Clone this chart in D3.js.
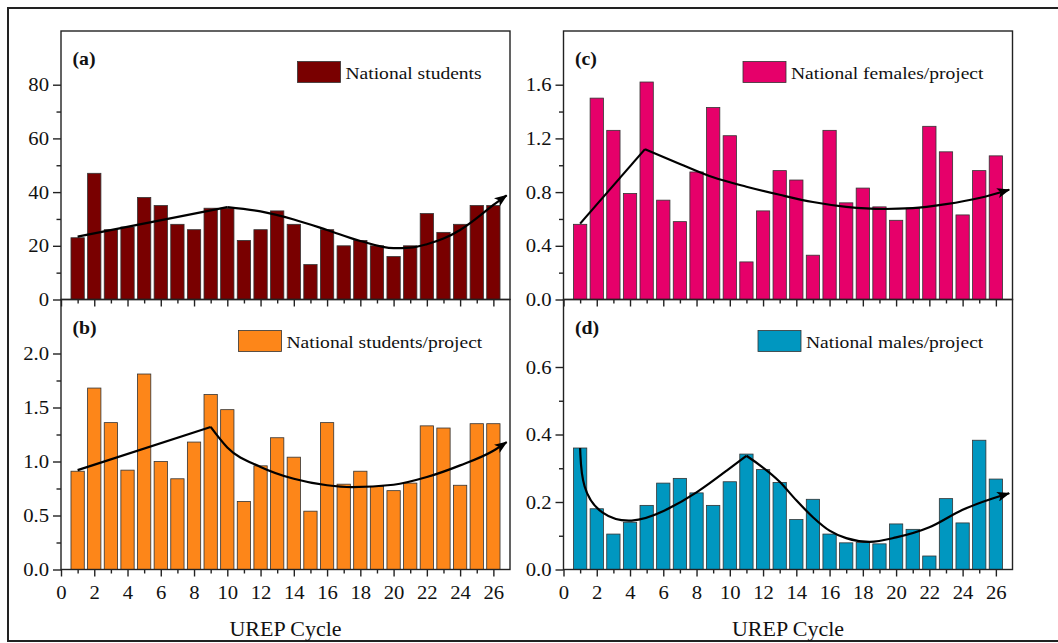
<!DOCTYPE html>
<html><head><meta charset="utf-8">
<script src="https://cdn.jsdelivr.net/npm/d3@7"></script>
<style>
body{margin:0;background:#fff}
text{font-family:"Liberation Serif","Times New Roman",serif;fill:#111}
</style>
</head><body>
<svg id="chart" width="1058" height="643"></svg>
<script>
// ---------- data ----------
const cycles = [1,2,3,4,5,6,7,8,9,10,11,12,13,14,15,16,17,18,19,20,21,22,23,24,25,26];
const xTickValues = [0,2,4,6,8,10,12,14,16,18,20,22,24,26];
const xMinorValues = [1,3,5,7,9,11,13,15,17,19,21,23,25];

const nationalStudents = [23,47,26,27,38,35,28,26,34,34,22,26,33,28,13,26,20,22,20,16,20,32,25,28,35,35];
const studentsPerProject = [0.91,1.68,1.36,0.92,1.81,1.00,0.84,1.18,1.62,1.48,0.63,0.96,1.22,1.04,0.54,1.36,0.79,0.91,0.77,0.73,0.80,1.33,1.31,0.78,1.35,1.35];
const femalesPerProject = [0.56,1.50,1.26,0.79,1.62,0.74,0.58,0.95,1.43,1.22,0.28,0.66,0.96,0.89,0.33,1.26,0.72,0.83,0.69,0.59,0.68,1.29,1.10,0.63,0.96,1.07];
const malesPerProject = [0.36,0.18,0.105,0.14,0.19,0.256,0.27,0.227,0.19,0.26,0.342,0.296,0.258,0.148,0.208,0.105,0.079,0.08,0.076,0.135,0.119,0.04,0.21,0.138,0.383,0.268];

// trend guide lines (segments of [cycle, value])
const trendA = [
  [[1,23.4],[10,34.4]],
  [[10,34.4],[12,32.8],[14,29.8],[16,25.9],[18,21.8],[20,19.1],[21,19.3],[22,20.6],[23,22.7],[24,25.9],[25,30.3],[26,35.2],[26.8,38.8]]
];
const trendB = [
  [[1,0.92],[9,1.32]],
  [[9,1.32],[10,1.13],[12,0.95],[14,0.84],[16,0.78],[17.5,0.763],[20,0.785],[22,0.856],[24,0.964],[26,1.10],[26.8,1.18]]
];
const trendC = [
  [[1,0.565],[4.9,1.12]],
  [[4.9,1.12],[7,1.01],[9,0.91],[11,0.84],[13,0.78],[15,0.726],[17,0.69],[19.3,0.674],[21,0.68],[23,0.71],[25,0.756],[26.8,0.818]]
];
// first segment of (d) is given as B-spline control points
const trendD = [
  [[1,0.36],[1.1,0.24],[2.2,0.16],[4.1,0.135],[6,0.17],[8,0.225],[10,0.3],[11,0.337]],
  [[11,0.337],[13,0.26],[14,0.205],[15,0.155],[16,0.115],[17,0.093],[18.4,0.082],[20,0.095],[22,0.125],[24,0.177],[26.8,0.226]]
];

const yTicksA = [0,20,40,60,80], yMinorA = [10,30,50,70];
const yTicksB = [0,0.5,1.0,1.5,2.0], yMinorB = [0.25,0.75,1.25,1.75];
const yTicksC = [0,0.4,0.8,1.2,1.6], yMinorC = [0.2,0.6,1.0,1.4];
const yTicksD = [0,0.2,0.4,0.6], yMinorD = [0.1,0.3,0.5];

const seriesNames = ["National students","National students/project","National females/project","National males/project"];
const panelLabels = ["(a)","(b)","(c)","(d)"];
const xTitle = "UREP Cycle";

// ---------- layout ----------
const SX = 1.15; // horizontal text stretch of the original figure
const panels = [
  {label:panelLabels[0], name:seriesNames[0], values:nationalStudents, trend:trendA, basis:[], yMax:100, ticks:yTicksA, minor:yMinorA, fmt:d3.format("d"),
   color:"#790000", left:61, right:510, top:31, bottom:299.5, xLabels:false, legX:297.5, legY:61.5},
  {label:panelLabels[1], name:seriesNames[1], values:studentsPerProject, trend:trendB, basis:[], yMax:2.5, ticks:yTicksB, minor:yMinorB, fmt:d3.format(".1f"),
   color:"#fd8619", left:61, right:510, top:299.5, bottom:569.5, xLabels:true, legX:238.5, legY:330.5},
  {label:panelLabels[2], name:seriesNames[2], values:femalesPerProject, trend:trendC, basis:[], yMax:2.0, ticks:yTicksC, minor:yMinorC, fmt:d3.format(".1f"),
   color:"#e6006a", left:563.5, right:1012.5, top:31, bottom:299.5, xLabels:false, legX:743, legY:61.5},
  {label:panelLabels[3], name:seriesNames[3], values:malesPerProject, trend:trendD, basis:[0], yMax:0.8, ticks:yTicksD, minor:yMinorD, fmt:d3.format(".1f"),
   color:"#0097c0", left:563.5, right:1012.5, top:299.5, bottom:569.5, xLabels:true, legX:758, legY:330.5}
];

const svg = d3.select("#chart");
svg.append("rect").attr("width",1058).attr("height",643).attr("fill","#fff");

// outer frame
svg.append("rect").attr("x",8).attr("y",8).attr("width",1070).attr("height",633)
  .attr("fill","none").attr("stroke","#222").attr("stroke-width",2);

const defs = svg.append("defs");
defs.append("marker").attr("id","arrow").attr("viewBox","0 0 13 10")
  .attr("refX",12).attr("refY",5).attr("markerWidth",13).attr("markerHeight",10)
  .attr("markerUnits","userSpaceOnUse").attr("orient","auto")
  .append("path").attr("d","M0,0 L13,5 L0,10 L3,5 Z").attr("fill","#000");

function stretch(sel){ sel.attr("transform",`scale(${SX},1)`); }

panels.forEach(p => {
  const g = svg.append("g");
  const x = d3.scaleLinear().domain([0,27]).range([p.left,p.right]);
  const y = d3.scaleLinear().domain([0,p.yMax]).range([p.bottom,p.top]);
  const bw = x(0.8) - x(0);

  // bars
  g.selectAll("rect.bar").data(cycles).join("rect").attr("class","bar")
    .attr("x", (c) => x(c) - bw/2)
    .attr("y", (c,i) => y(p.values[i]))
    .attr("width", bw)
    .attr("height", (c,i) => y(0) - y(p.values[i]))
    .attr("fill", p.color).attr("stroke","#333").attr("stroke-width",0.8);

  // frame
  g.append("rect").attr("x",p.left).attr("y",p.top).attr("width",p.right-p.left).attr("height",p.bottom-p.top)
    .attr("fill","none").attr("stroke","#222").attr("stroke-width",1.4);

  // y axis
  const yMaj = g.append("g").attr("transform",`translate(${p.left},0)`)
    .call(d3.axisLeft(y).tickValues(p.ticks).tickSize(8).tickSizeOuter(0).tickFormat(p.fmt));
  const yMin = g.append("g").attr("transform",`translate(${p.left},0)`)
    .call(d3.axisLeft(y).tickValues(p.minor).tickSize(4.5).tickSizeOuter(0).tickFormat(""));
  [yMaj,yMin].forEach(a => { a.select(".domain").remove(); a.selectAll("line").attr("stroke","#222").attr("stroke-width",1.4); });
  yMaj.selectAll("text").attr("font-size",18).attr("x",-12/SX).attr("dy","0.34em").attr("fill","#111").call(stretch)
    .style("font-family",'"Liberation Serif",serif');

  // x axis
  const xMaj = g.append("g").attr("transform",`translate(0,${p.bottom})`)
    .call(d3.axisBottom(x).tickValues(xTickValues).tickSize(7).tickSizeOuter(0).tickFormat(p.xLabels ? d3.format("d") : ""));
  const xMin = g.append("g").attr("transform",`translate(0,${p.bottom})`)
    .call(d3.axisBottom(x).tickValues(xMinorValues).tickSize(4).tickSizeOuter(0).tickFormat(""));
  [xMaj,xMin].forEach(a => { a.select(".domain").remove(); a.selectAll("line").attr("stroke","#222").attr("stroke-width",1.4); });
  xMaj.selectAll("text").attr("font-size",18).attr("y",29.5).attr("dy",0).attr("fill","#111").call(stretch)
    .style("font-family",'"Liberation Serif",serif');
  if (!p.xLabels) xMaj.selectAll("text").remove();

  // trend lines
  const lineM = d3.line().x(d => x(d[0])).y(d => y(d[1])).curve(d3.curveMonotoneX);
  const lineB = d3.line().x(d => x(d[0])).y(d => y(d[1])).curve(d3.curveBasis);
  p.trend.forEach((seg,i) => {
    const gen = p.basis.includes(i) ? lineB : lineM;
    g.append("path").attr("d", gen(seg)).attr("fill","none").attr("stroke","#000").attr("stroke-width",2.2)
      .attr("stroke-linejoin","round")
      .attr("marker-end", i === p.trend.length-1 ? "url(#arrow)" : null);
  });

  // panel label
  g.append("text").attr("transform",`translate(${p.left+11.5},${p.top+34}) scale(1.1,1)`)
    .attr("font-size",18).attr("font-weight","bold").text(p.label);

  // legend
  g.append("rect").attr("x",p.legX).attr("y",p.legY).attr("width",43).attr("height",21)
    .attr("fill",p.color).attr("stroke","#333").attr("stroke-width",0.8);
  g.append("text").attr("transform",`translate(${p.legX+48},${p.legY+17}) scale(${SX},1)`)
    .attr("font-size",17).text(p.name);

  // axis title
  if (p.xLabels) {
    g.append("text").attr("transform",`translate(${(p.left+p.right)/2},${p.bottom+66}) scale(1.1,1)`)
      .attr("text-anchor","middle").attr("font-size",20).text(xTitle);
  }
});
</script>
</body></html>
